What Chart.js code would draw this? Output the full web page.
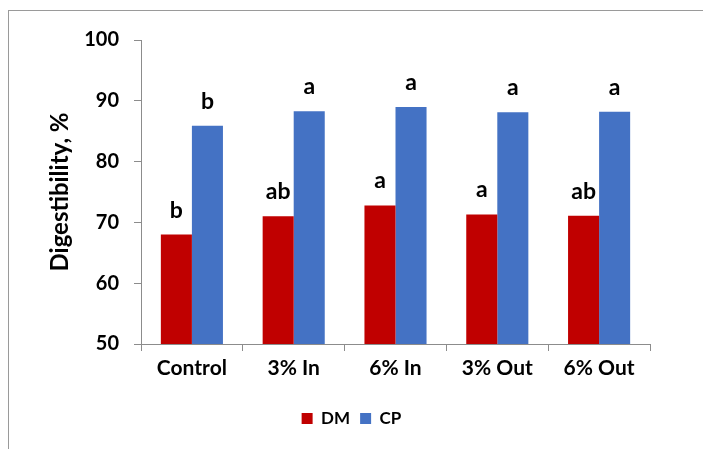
<!DOCTYPE html>
<html>
<head>
<meta charset="utf-8">
<script src="https://cdn.jsdelivr.net/npm/chart.js@4"></script>
<style>
  html, body { margin: 0; padding: 0; background: #ffffff; }
  #wrap { position: relative; width: 703px; height: 449px; overflow: hidden; }
  #frame { position: absolute; left: 8px; top: 10px; width: 800px; height: 600px;
           border-left: 1px solid #9a9a9a; border-top: 1px solid #9a9a9a; }
  canvas { position: absolute; left: 0; top: 0; }
</style>
</head>
<body>
<div id="wrap">
  <div id="frame"></div>
  <canvas id="c" width="703" height="449"></canvas>
</div>
<script>
const categories = ['Control', '3% In', '6% In', '3% Out', '6% Out'];
const dmValues = [68.0, 71.0, 72.8, 71.3, 71.1];
const cpValues = [85.9, 88.3, 89.0, 88.1, 88.2];
const dmLetters = ['b', 'ab', 'a', 'a', 'ab'];
const cpLetters = ['b', 'a', 'a', 'a', 'a'];
const yTicks = [50, 60, 70, 80, 90, 100];

const FONT = 'Lato, "Liberation Sans", Arial, sans-serif';
const W = 'bold';
const AXIS_GRAY = '#8c8c8c';

const letterPlugin = {
  id: 'letters',
  afterDatasetsDraw(chart) {
    const ctx = chart.ctx;
    ctx.save();
    ctx.font = W + ' 23px ' + FONT;
    ctx.fillStyle = '#000000';
    ctx.textAlign = 'center';
    ctx.textBaseline = 'alphabetic';
    chart.data.datasets.forEach((ds, i) => {
      const meta = chart.getDatasetMeta(i);
      meta.data.forEach((el, j) => {
        ctx.fillText(ds.letters[j], el.x, el.y - 17);
      });
    });
    ctx.restore();
  }
};

new Chart(document.getElementById('c'), {
  type: 'bar',
  data: {
    labels: categories,
    datasets: [
      { label: 'DM', data: dmValues, letters: dmLetters, backgroundColor: '#C00000', yAxisID: 'y' },
      { label: 'CP', data: cpValues, letters: cpLetters, backgroundColor: '#4472C4', yAxisID: 'y' }
    ]
  },
  options: {
    responsive: false,
    animation: false,
    devicePixelRatio: 1,
    layout: { padding: { top: 40, left: 0, right: 0, bottom: 12 } },
    datasets: { bar: { categoryPercentage: 0.61, barPercentage: 1.0 } },
    plugins: {
      tooltip: { enabled: false },
      legend: {
        position: 'bottom',
        labels: {
          boxWidth: 11, boxHeight: 11, padding: 10,
          color: '#000000',
          font: { family: FONT, size: 17, weight: 'bold' }
        }
      }
    },
    scales: {
      x: {
        grid: { display: true, drawOnChartArea: false, drawTicks: true, tickLength: 7, color: AXIS_GRAY, offset: true },
        border: { display: true, color: AXIS_GRAY, width: 1 },
        ticks: { color: '#000000', padding: 5, font: { family: FONT, size: 21, weight: W } },
        afterFit(s) { s.height = 56; }
      },
      y: {
        min: 50, max: 100,
        afterBuildTicks(s) { s.ticks = yTicks.map(v => ({ value: v })); },
        grid: { display: true, drawOnChartArea: false, drawTicks: true, tickLength: 7, color: AXIS_GRAY },
        border: { display: true, color: AXIS_GRAY, width: 1 },
        ticks: { color: '#000000', padding: 15, font: { family: FONT, size: 20, weight: W } },
        title: {
          display: true, text: 'Digestibility, %', color: '#000000',
          padding: { top: 46, bottom: 0 },
          font: { family: FONT, size: 24, weight: W }
        },
        afterFit(s) { s.width = 141; }
      },
      yr: {
        position: 'right', display: true, min: 0, max: 1,
        grid: { display: false }, border: { display: false }, ticks: { display: false },
        afterFit(s) { s.width = 53; }
      }
    }
  },
  plugins: [letterPlugin]
});
</script>
</body>
</html>
